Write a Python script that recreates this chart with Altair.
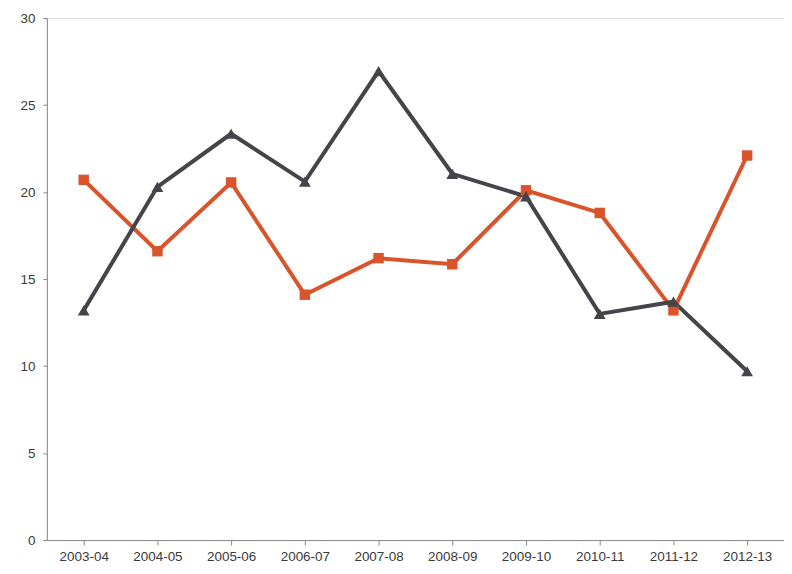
import altair as alt
import pandas as pd

years = ["2003-04", "2004-05", "2005-06", "2006-07", "2007-08",
         "2008-09", "2009-10", "2010-11", "2011-12", "2012-13"]
series_a = [20.7, 16.6, 20.55, 14.1, 16.2, 15.85, 20.1, 18.8, 13.2, 22.1]
series_b = [13.2, 20.3, 23.35, 20.6, 26.95, 21.05, 19.75, 13.0, 13.7, 9.7]

df = pd.DataFrame({
    "year": years * 2,
    "value": series_a + series_b,
    "series": ["A"] * len(years) + ["B"] * len(years),
})

x = alt.X("year:N", sort=years, title=None,
          scale=alt.Scale(paddingInner=0, paddingOuter=0),
          axis=alt.Axis(labelAngle=0, labelFontSize=13.5, labelColor="#3a3a3a",
                        labelFont="Liberation Sans", domainColor="#888888",
                        tickColor="#888888", bandPosition=0, tickSize=5,
                        labelPadding=5, grid=False))
y = alt.Y("value:Q", title=None,
          scale=alt.Scale(domain=[0, 30], nice=False),
          axis=alt.Axis(values=[0, 5, 10, 15, 20, 25, 30], labelFontSize=13.5,
                        labelColor="#3a3a3a", labelFont="Liberation Sans",
                        domainColor="#888888", tickColor="#888888", tickSize=4,
                        labelPadding=8, grid=False))

colors = alt.Scale(domain=["A", "B"], range=["#D9532B", "#45444A"])

lines = alt.Chart(df).mark_line(strokeWidth=4).encode(
    x=x, y=y, color=alt.Color("series:N", scale=colors, legend=None),
    order=alt.Order("series:N"))

pts_a = alt.Chart(df[df.series == "A"]).mark_point(
    shape="square", filled=True, size=110, opacity=1, color="#D9532B"
).encode(x=x, y=y)
pts_b = alt.Chart(df[df.series == "B"]).mark_point(
    shape="triangle-up", filled=True, size=140, opacity=1, color="#45444A"
).encode(x=x, y=y)

chart = alt.layer(lines, pts_a, pts_b).properties(
    width=740, height=524,
    autosize=alt.AutoSizeParams(type="none"),
    padding={"left": 39, "top": 9, "right": 0, "bottom": 33},
).configure_view(stroke="#8a8a8a", strokeWidth=1.2).configure(background="white")

chart.save("out.html", embed_options={"renderer": "svg", "actions": False})
